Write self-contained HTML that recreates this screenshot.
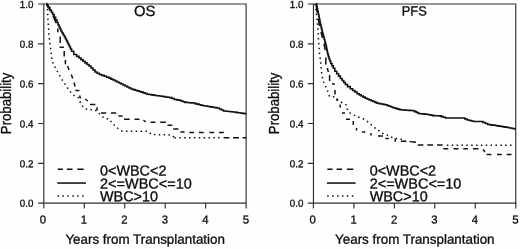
<!DOCTYPE html>
<html><head><meta charset="utf-8"><title>OS / PFS</title>
<style>
html,body{margin:0;padding:0;background:#fefefd;}
svg{display:block;will-change:transform;}
text{font-family:"Liberation Sans",sans-serif;fill:#0a0a0a;stroke:#0a0a0a;stroke-width:0.3px;}
</style></head>
<body>
<svg width="520" height="249" viewBox="0 0 520 249">
<rect width="520" height="249" fill="#fefefd"/>
<path d="M43.8,4.0H246.10000000000002V203.1H43.8Z" fill="none" stroke="#303030" stroke-width="1.15"/>
<path d="M38.1,203.1H43.8M43.8,203.1V208.4M38.1,163.3H43.8M84.3,203.1V208.4M38.1,123.5H43.8M124.7,203.1V208.4M38.1,83.6H43.8M165.2,203.1V208.4M38.1,43.8H43.8M205.6,203.1V208.4M38.1,4.0H43.8M246.1,203.1V208.4" fill="none" stroke="#303030" stroke-width="1.15"/>
<text transform="translate(33.40,206.65) matrix(0.96,0.0005,0,1.0,0,0)" font-size="10.2" text-anchor="end">0.0</text>
<text transform="translate(42.90,223.50) matrix(0.98,0.0005,0,1.0,0,0)" font-size="11.6" text-anchor="middle">0</text>
<text transform="translate(33.40,167.23) matrix(0.96,0.0005,0,1.0,0,0)" font-size="10.2" text-anchor="end">0.2</text>
<text transform="translate(83.96,223.50) matrix(0.98,0.0005,0,1.0,0,0)" font-size="11.6" text-anchor="middle">1</text>
<text transform="translate(33.40,127.41) matrix(0.96,0.0005,0,1.0,0,0)" font-size="10.2" text-anchor="end">0.4</text>
<text transform="translate(124.42,223.50) matrix(0.98,0.0005,0,1.0,0,0)" font-size="11.6" text-anchor="middle">2</text>
<text transform="translate(33.40,87.59) matrix(0.96,0.0005,0,1.0,0,0)" font-size="10.2" text-anchor="end">0.6</text>
<text transform="translate(164.88,223.50) matrix(0.98,0.0005,0,1.0,0,0)" font-size="11.6" text-anchor="middle">3</text>
<text transform="translate(33.40,47.77) matrix(0.96,0.0005,0,1.0,0,0)" font-size="10.2" text-anchor="end">0.8</text>
<text transform="translate(205.34,223.50) matrix(0.98,0.0005,0,1.0,0,0)" font-size="11.6" text-anchor="middle">4</text>
<text transform="translate(33.40,8.10) matrix(0.96,0.0005,0,1.0,0,0)" font-size="10.2" text-anchor="end">1.0</text>
<text transform="translate(245.80,223.50) matrix(0.98,0.0005,0,1.0,0,0)" font-size="11.6" text-anchor="middle">5</text>
<text transform="translate(145.15,243.70) matrix(1.0,0.0005,0,1.0,0,0)" font-size="13.4" text-anchor="middle">Years from Transplantation</text>
<text transform="translate(11.40,103.40) rotate(-90) scale(0.962,1.04)" font-size="13.7" text-anchor="middle">Probability</text>
<text transform="translate(144.75,15.90) matrix(1.0,0.0005,0,1.0,0,0)" font-size="14.8" text-anchor="middle">OS</text>
<polyline points="46.20,3.60 46.88,3.60 46.88,5.40 47.55,5.40 48.22,5.40 48.22,7.20 48.90,7.20 49.90,7.20 49.90,10.40 50.90,10.40 51.50,10.40 51.50,12.45 52.10,12.45 52.70,12.45 52.70,14.50 53.30,14.50 54.07,14.50 54.07,17.25 54.85,17.25 55.62,17.25 55.62,20.00 56.40,20.00 56.95,20.00 56.95,22.50 57.50,22.50 58.05,22.50 58.05,25.00 58.60,25.00 59.07,25.00 59.07,27.00 59.53,27.00 60.00,27.00 60.00,29.00 60.47,29.00 60.93,29.00 60.93,31.00 61.40,31.00 62.00,31.00 62.00,33.00 62.60,33.00 63.20,33.00 63.20,35.00 63.80,35.00 64.40,35.00 64.40,37.00 65.00,37.00 65.50,37.00 65.50,39.00 66.00,39.00 66.50,39.00 66.50,41.00 67.00,41.00 67.50,41.00 67.50,43.00 68.00,43.00 68.50,43.00 68.50,45.00 69.00,45.00 69.50,45.00 69.50,47.00 70.00,47.00 70.50,47.00 70.50,49.00 71.00,49.00 71.60,49.00 71.60,51.20 72.20,51.20 73.75,51.20 73.75,54.50 75.30,54.50 76.65,54.50 76.65,56.40 78.00,56.40 79.00,56.40 79.00,58.03 80.00,58.03 81.00,58.03 81.00,59.67 82.00,59.67 83.00,59.67 83.00,61.30 84.00,61.30 85.00,61.30 85.00,62.87 86.00,62.87 87.00,62.87 87.00,64.43 88.00,64.43 89.00,64.43 89.00,66.00 90.00,66.00 91.00,66.00 91.00,68.00 92.00,68.00 93.00,68.00 93.00,70.00 94.00,70.00 95.00,70.00 95.00,72.00 96.00,72.00 97.10,72.00 97.10,73.25 98.20,73.25 99.30,73.25 99.30,74.50 100.40,74.50 101.67,74.50 101.67,75.40 102.93,75.40 104.20,75.40 104.20,76.30 105.47,76.30 106.73,76.30 106.73,77.20 108.00,77.20 109.00,77.20 109.00,78.15 110.00,78.15 111.00,78.15 111.00,79.10 112.00,79.10 113.00,79.10 113.00,80.05 114.00,80.05 115.00,80.05 115.00,81.00 116.00,81.00 117.00,81.00 117.00,82.00 118.00,82.00 119.00,82.00 119.00,83.00 120.00,83.00 121.00,83.00 121.00,84.00 122.00,84.00 123.00,84.00 123.00,85.00 124.00,85.00 125.00,85.00 125.00,86.00 126.00,86.00 127.00,86.00 127.00,87.00 128.00,87.00 129.00,87.00 129.00,88.00 130.00,88.00 131.00,88.00 131.00,89.00 132.00,89.00 133.03,89.00 133.03,89.62 134.05,89.62 135.07,89.62 135.07,90.25 136.10,90.25 137.12,90.25 137.12,90.88 138.15,90.88 139.17,90.88 139.17,91.50 140.20,91.50 141.20,91.50 141.20,92.17 142.20,92.17 143.20,92.17 143.20,92.85 144.20,92.85 145.20,92.85 145.20,93.53 146.20,93.53 147.20,93.53 147.20,94.20 148.20,94.20 149.20,94.20 149.20,94.53 150.20,94.53 151.20,94.53 151.20,94.85 152.20,94.85 153.20,94.85 153.20,95.17 154.20,95.17 155.20,95.17 155.20,95.50 156.20,95.50 157.21,95.50 157.21,95.78 158.22,95.78 159.24,95.78 159.24,96.05 160.25,96.05 161.26,96.05 161.26,96.32 162.28,96.32 163.29,96.32 163.29,96.60 164.30,96.60 165.37,96.60 165.37,96.93 166.43,96.93 167.50,96.93 167.50,97.27 168.57,97.27 169.63,97.27 169.63,97.60 170.70,97.60 171.90,97.60 171.90,98.55 173.10,98.55 174.30,98.55 174.30,99.50 175.50,99.50 176.62,99.50 176.62,99.90 177.75,99.90 178.88,99.90 178.88,100.30 180.00,100.30 181.00,100.30 181.00,101.00 182.00,101.00 183.00,101.00 183.00,101.70 184.00,101.70 185.00,101.70 185.00,102.40 186.00,102.40 187.00,102.40 187.00,102.55 188.00,102.55 189.00,102.55 189.00,102.70 190.00,102.70 191.00,102.70 191.00,102.85 192.00,102.85 193.00,102.85 193.00,103.00 194.00,103.00 195.00,103.00 195.00,103.58 196.00,103.58 197.00,103.58 197.00,104.15 198.00,104.15 199.00,104.15 199.00,104.72 200.00,104.72 201.00,104.72 201.00,105.30 202.00,105.30 203.16,105.30 203.16,105.69 204.31,105.69 205.47,105.69 205.47,106.07 206.63,106.07 207.79,106.07 207.79,106.46 208.94,106.46 210.10,106.46 210.10,106.84 211.26,106.84 212.41,106.84 212.41,107.23 213.57,107.23 214.73,107.23 214.73,107.61 215.89,107.61 217.04,107.61 217.04,108.00 218.20,108.00 219.27,108.00 219.27,109.00 220.33,109.00 221.40,109.00 221.40,110.00 222.47,110.00 223.53,110.00 223.53,111.00 224.60,111.00 225.81,111.00 225.81,111.25 227.03,111.25 228.24,111.25 228.24,111.50 229.45,111.50 230.66,111.50 230.66,111.75 231.88,111.75 233.09,111.75 233.09,112.00 234.30,112.00 235.42,112.00 235.42,112.34 236.54,112.34 237.66,112.34 237.66,112.68 238.78,112.68 239.90,112.68 239.90,113.02 241.02,113.02 242.14,113.02 242.14,113.36 243.26,113.36 244.38,113.36 244.38,113.70 245.50,113.70 245.85,113.70 245.85,113.80 246.20,113.80" fill="none" stroke="#111" stroke-width="1.6" stroke-linejoin="miter"/>
<path d="M47,5L50.5,10.8M53,15.6L56,23M57.8,28.6L57.8,32.2M60.2,36.4L60.2,43M59.6,47.2L63.9,47.2M64.2,51L64.2,56.4M65.4,60L65.4,64.3M67.6,66L69,70M71.3,74.5L72.7,78.5M74,82.5L75,86.5M75.3,90.4L79.4,90.4M79.6,95.5L80.5,98.5M85.3,99L87.7,101M90,104.4L95.4,104.4M97,107.3L97,110.5M101,113.1L106.2,113.1M110.9,113L116.2,113M118.5,116L122.5,116M124,119.3L129.7,119.3M134.5,119.3L139.4,119.3M143.4,120L145.8,122M150.6,122.2L155.4,122.2M160.2,122.2L165.9,122.2M167.5,125.2L172.3,125.2M173.2,129L178.4,129M180.4,132.1L184.5,132.1M189.3,132.6L194,132.6M199,132.6L203.7,132.6M209.4,132.6L214.2,132.6M219,132.6L223.8,132.6M223.6,137.7L229.3,137.7M233,137.7L239,137.7M242.6,137.7L246.2,137.7" fill="none" stroke="#111" stroke-width="1.5"/>
<path d="M46.80,4.00L46.97,5.49M47.37,8.85L47.50,10.00L47.52,10.34M47.69,13.71L47.76,15.21M47.93,18.59L48.00,20.00L48.01,20.09M48.23,23.46L48.33,24.96M48.56,28.33L48.66,29.83M48.88,33.20L48.98,34.69M49.31,38.06L49.46,39.55M49.79,42.91L49.94,44.41M50.42,47.75L50.64,49.24M51.10,52.58L51.26,54.07M51.62,57.44L51.78,58.93M52.58,62.16L53.25,63.50M54.76,66.52L55.43,67.86M57.03,70.85L57.75,72.16M59.40,75.11L60.12,76.42M61.86,79.32L62.67,80.58M64.52,83.41L65.33,84.67M67.22,87.47L68.07,88.71M69.99,91.49L70.00,91.50L71.05,92.55M73.44,94.94L74.50,96.00L74.50,96.00M77.62,97.32L78.50,97.70L78.70,98.20M79.95,101.34L80.50,102.74M82.21,105.62L83.11,106.82M85.75,108.74L87.13,109.33M90.43,109.70L91.93,109.70M95.18,110.12L96.40,110.99M98.95,113.19L100.00,114.26M102.46,116.57L103.62,117.52M106.62,118.80L108.10,119.05M110.56,120.90L111.33,122.18M113.62,124.60L114.79,125.53M117.32,127.78L118.39,128.82M121.19,130.65L122.50,131.30L122.54,131.30M125.92,131.30L127.42,131.30M130.80,131.30L132.30,131.30M135.68,131.30L137.18,131.30M140.56,131.30L142.06,131.30M145.44,131.30L146.94,131.30M149.70,132.80L150.76,133.86M153.87,134.56L155.37,134.60M158.75,134.68L160.25,134.71M163.63,134.80L165.13,134.83M168.51,134.92L170.01,134.95M172.92,136.04L173.92,137.15" fill="none" stroke="#111" stroke-width="1.5"/>
<path d="M174.50,137.80L175.95,137.80M179.31,137.80L180.81,137.80M184.17,137.80L185.67,137.80M189.03,137.80L190.53,137.80M193.89,137.80L195.39,137.80M198.75,137.80L200.25,137.80M203.61,137.80L205.11,137.80M208.47,137.80L209.97,137.80M213.33,137.80L214.83,137.80M218.19,137.80L219.69,137.80" fill="none" stroke="#111" stroke-width="1.5"/>
<path d="M57.7,169.3H62.9M66.9,169.3H72.5M77.3,169.3H83.7" stroke="#111" stroke-width="1.5"/>
<path d="M57.3,183.05H86.0" stroke="#111" stroke-width="1.55"/>
<path d="M57.55,196H83.8" stroke="#111" stroke-width="1.5" stroke-dasharray="1.5 3.42"/>
<text transform="translate(100.00,175.40) matrix(1.0,0.0005,0,1.0,0,0)" font-size="14.4">0&lt;WBC&lt;2</text>
<text transform="translate(100.00,188.40) matrix(1.006,0.0005,0,1.0,0,0)" font-size="14.4">2&lt;=WBC&lt;=10</text>
<text transform="translate(100.00,201.20) matrix(1.0,0.0005,0,1.0,0,0)" font-size="14.4">WBC&gt;10</text>
<path d="M313.45,4.0H515.75V203.1H313.45Z" fill="none" stroke="#303030" stroke-width="1.15"/>
<path d="M307.8,203.1H313.45M313.4,203.1V208.4M307.8,163.3H313.45M353.9,203.1V208.4M307.8,123.5H313.45M394.4,203.1V208.4M307.8,83.6H313.45M434.8,203.1V208.4M307.8,43.8H313.45M475.3,203.1V208.4M307.8,4.0H313.45M515.8,203.1V208.4" fill="none" stroke="#303030" stroke-width="1.15"/>
<text transform="translate(303.45,206.65) matrix(0.96,0.0005,0,1.0,0,0)" font-size="10.2" text-anchor="end">0.0</text>
<text transform="translate(312.55,223.50) matrix(0.98,0.0005,0,1.0,0,0)" font-size="11.6" text-anchor="middle">0</text>
<text transform="translate(303.45,167.23) matrix(0.96,0.0005,0,1.0,0,0)" font-size="10.2" text-anchor="end">0.2</text>
<text transform="translate(353.61,223.50) matrix(0.98,0.0005,0,1.0,0,0)" font-size="11.6" text-anchor="middle">1</text>
<text transform="translate(303.45,127.41) matrix(0.96,0.0005,0,1.0,0,0)" font-size="10.2" text-anchor="end">0.4</text>
<text transform="translate(394.07,223.50) matrix(0.98,0.0005,0,1.0,0,0)" font-size="11.6" text-anchor="middle">2</text>
<text transform="translate(303.45,87.59) matrix(0.96,0.0005,0,1.0,0,0)" font-size="10.2" text-anchor="end">0.6</text>
<text transform="translate(434.53,223.50) matrix(0.98,0.0005,0,1.0,0,0)" font-size="11.6" text-anchor="middle">3</text>
<text transform="translate(303.45,47.77) matrix(0.96,0.0005,0,1.0,0,0)" font-size="10.2" text-anchor="end">0.8</text>
<text transform="translate(474.99,223.50) matrix(0.98,0.0005,0,1.0,0,0)" font-size="11.6" text-anchor="middle">4</text>
<text transform="translate(303.45,8.10) matrix(0.96,0.0005,0,1.0,0,0)" font-size="10.2" text-anchor="end">1.0</text>
<text transform="translate(515.45,223.50) matrix(0.98,0.0005,0,1.0,0,0)" font-size="11.6" text-anchor="middle">5</text>
<text transform="translate(414.80,243.70) matrix(1.0,0.0005,0,1.0,0,0)" font-size="13.4" text-anchor="middle">Years from Transplantation</text>
<text transform="translate(279.15,103.40) rotate(-90) scale(0.962,1.04)" font-size="13.7" text-anchor="middle">Probability</text>
<text transform="translate(414.20,15.60) matrix(0.97,0.0005,0,1.0,0,0)" font-size="13.3" text-anchor="middle">PFS</text>
<polyline points="316.30,3.60 316.58,3.60 316.58,6.30 316.85,6.30 317.12,6.30 317.12,9.00 317.40,9.00 317.67,9.00 317.67,11.50 317.95,11.50 318.23,11.50 318.23,14.00 318.50,14.00 318.70,14.00 318.70,16.00 318.90,16.00 319.10,16.00 319.10,18.00 319.30,18.00 319.50,18.00 319.50,20.00 319.70,20.00 319.95,20.00 319.95,22.50 320.20,22.50 320.45,22.50 320.45,25.00 320.70,25.00 321.00,25.00 321.00,27.40 321.30,27.40 321.60,27.40 321.60,29.80 321.90,29.80 322.20,29.80 322.20,32.20 322.50,32.20 322.80,32.20 322.80,34.60 323.10,34.60 323.44,34.60 323.44,37.02 323.78,37.02 324.11,37.02 324.11,39.45 324.45,39.45 324.79,39.45 324.79,41.88 325.12,41.88 325.46,41.88 325.46,44.30 325.80,44.30 326.02,44.30 326.02,46.34 326.24,46.34 326.46,46.34 326.46,48.38 326.68,48.38 326.90,48.38 326.90,50.42 327.12,50.42 327.34,50.42 327.34,52.46 327.56,52.46 327.78,52.46 327.78,54.50 328.00,54.50 328.35,54.50 328.35,56.67 328.70,56.67 329.05,56.67 329.05,58.83 329.40,58.83 329.75,58.83 329.75,61.00 330.10,61.00 330.73,61.00 330.73,63.43 331.37,63.43 332.00,63.43 332.00,65.87 332.63,65.87 333.27,65.87 333.27,68.30 333.90,68.30 334.85,68.30 334.85,71.30 335.80,71.30 336.72,71.30 336.72,73.70 337.63,73.70 338.55,73.70 338.55,76.10 339.47,76.10 340.38,76.10 340.38,78.50 341.30,78.50 342.12,78.50 342.12,80.50 342.93,80.50 343.75,80.50 343.75,82.50 344.57,82.50 345.38,82.50 345.38,84.50 346.20,84.50 347.52,84.50 347.52,86.65 348.85,86.65 350.18,86.65 350.18,88.80 351.50,88.80 352.62,88.80 352.62,90.43 353.73,90.43 354.85,90.43 354.85,92.07 355.97,92.07 357.08,92.07 357.08,93.70 358.20,93.70 359.20,93.70 359.20,94.83 360.20,94.83 361.20,94.83 361.20,95.95 362.20,95.95 363.20,95.95 363.20,97.08 364.20,97.08 365.20,97.08 365.20,98.20 366.20,98.20 367.17,98.20 367.17,99.03 368.13,99.03 369.10,99.03 369.10,99.87 370.07,99.87 371.03,99.87 371.03,100.70 372.00,100.70 373.00,100.70 373.00,101.53 374.00,101.53 375.00,101.53 375.00,102.37 376.00,102.37 377.00,102.37 377.00,103.20 378.00,103.20 379.00,103.20 379.00,103.60 380.00,103.60 381.00,103.60 381.00,104.00 382.00,104.00 383.00,104.00 383.00,104.40 384.00,104.40 385.00,104.40 385.00,104.80 386.00,104.80 387.00,104.80 387.00,105.53 388.00,105.53 389.00,105.53 389.00,106.25 390.00,106.25 391.00,106.25 391.00,106.97 392.00,106.97 393.00,106.97 393.00,107.70 394.00,107.70 395.17,107.70 395.17,108.40 396.33,108.40 397.50,108.40 397.50,109.10 398.67,109.10 399.83,109.10 399.83,109.80 401.00,109.80 402.06,109.80 402.06,109.95 403.12,109.95 404.18,109.95 404.18,110.10 405.23,110.10 406.29,110.10 406.29,110.25 407.35,110.25 408.41,110.25 408.41,110.40 409.47,110.40 410.52,110.40 410.52,110.55 411.58,110.55 412.64,110.55 412.64,110.70 413.70,110.70 414.63,110.70 414.63,111.63 415.57,111.63 416.50,111.63 416.50,112.57 417.43,112.57 418.37,112.57 418.37,113.50 419.30,113.50 420.30,113.50 420.30,113.70 421.30,113.70 422.30,113.70 422.30,113.90 423.30,113.90 424.30,113.90 424.30,114.10 425.30,114.10 426.30,114.10 426.30,114.30 427.30,114.30 428.37,114.30 428.37,114.73 429.43,114.73 430.50,114.73 430.50,115.17 431.57,115.17 432.63,115.17 432.63,115.60 433.70,115.60 434.78,115.60 434.78,115.70 435.87,115.70 436.95,115.70 436.95,115.80 438.03,115.80 439.12,115.80 439.12,115.90 440.20,115.90 441.27,115.90 441.27,116.60 442.33,116.60 443.40,116.60 443.40,117.30 444.47,117.30 445.53,117.30 445.53,118.00 446.60,118.00 447.66,118.00 447.66,118.00 448.71,118.00 449.77,118.00 449.77,118.00 450.83,118.00 451.88,118.00 451.88,118.00 452.94,118.00 453.99,118.00 453.99,118.00 455.05,118.00 456.11,118.00 456.11,118.00 457.16,118.00 458.22,118.00 458.22,118.00 459.27,118.00 460.33,118.00 460.33,118.00 461.39,118.00 462.44,118.00 462.44,118.00 463.50,118.00 464.73,118.00 464.73,119.00 465.95,119.00 467.17,119.00 467.17,120.00 468.40,120.00 469.42,120.00 469.42,120.50 470.43,120.50 471.45,120.50 471.45,121.00 472.47,121.00 473.48,121.00 473.48,121.50 474.50,121.50 475.70,121.50 475.70,121.50 476.90,121.50 478.10,121.50 478.10,121.50 479.30,121.50 480.50,121.50 480.50,121.50 481.70,121.50 482.92,121.50 482.92,122.50 484.13,122.50 485.35,122.50 485.35,123.50 486.57,123.50 487.78,123.50 487.78,124.50 489.00,124.50 490.17,124.50 490.17,124.83 491.33,124.83 492.50,124.83 492.50,125.17 493.67,125.17 494.83,125.17 494.83,125.50 496.00,125.50 497.02,125.50 497.02,125.83 498.03,125.83 499.05,125.83 499.05,126.17 500.07,126.17 501.08,126.17 501.08,126.50 502.10,126.50 503.12,126.50 503.12,126.83 504.13,126.83 505.15,126.83 505.15,127.17 506.17,127.17 507.18,127.17 507.18,127.50 508.20,127.50 509.47,127.50 509.47,128.00 510.73,128.00 512.00,128.00 512.00,128.50 513.27,128.50 514.53,128.50 514.53,129.00 515.80,129.00" fill="none" stroke="#111" stroke-width="1.6" stroke-linejoin="miter"/>
<path d="M316.3,6L317.3,13M318.2,19L319.5,26M321,32L322.5,38M324,43.5L325.2,50M325.8,57.4L325.8,64.6M327.3,68L328.3,72M329.6,75L329.6,81M332,84.1L334.8,84.1M335,90L335,94.5M337,98.5L337,101M340,104.5L340.4,107.6M342,112.9L345,112.9M346,119.3L350,119.3M353.3,121L353.3,125M356.5,128L356.5,130.5M362,132L365.3,132M371,133L371,135.4M378,136L383,136M385.4,138.5L388.8,138.5M395.3,138.5L395.3,141.7M401,141.3L405.7,141.3M411.3,141.8L416,142.2M417.8,144.9L423.4,144.9M427.4,144.9L433,144.9M437,144.9L442.6,144.9M443.3,148.7L448.2,148.7M453.5,148.7L458.5,148.7M463.3,148.8L468,148.8M473,148.8L478.5,148.8M483,149.5L485,152M486.6,154.4L491.4,154.4M497,154.4L501.8,154.4M506.7,154.4L511.5,154.4" fill="none" stroke="#111" stroke-width="1.5"/>
<path d="M315.20,4.00L315.37,5.49M315.77,8.85L315.94,10.34M316.34,13.69L316.51,15.18M316.90,18.54L317.08,20.03M317.47,23.39L317.65,24.88M317.90,28.25L317.97,29.74M318.13,33.12L318.20,34.60L318.20,34.62M318.40,37.99L318.49,39.49M318.69,42.86L318.70,43.00L318.79,44.36M319.02,47.73L319.12,49.23M319.35,52.60L319.40,53.30L319.52,54.09M320.04,57.43L320.27,58.91M320.68,62.26L320.78,63.76M321.01,67.13L321.18,68.62M321.55,71.98L321.71,73.48M322.28,76.80L322.56,78.28M323.46,81.53L323.60,82.00L324.02,82.92M325.44,85.99L326.00,87.20L326.08,87.34M327.41,90.43L327.82,91.87M328.96,95.05L329.48,96.46M332.81,96.87L334.00,97.00L334.25,97.18M336.95,99.21L338.00,100.00L338.16,100.10M340.99,101.95L342.24,102.77M345.21,104.38L346.00,104.80L346.15,105.39M346.97,108.67L347.00,108.80L347.58,110.04M349.53,112.64L350.80,113.44M353.75,115.07L355.12,115.69M358.20,117.07L359.62,117.57M362.80,118.69L363.70,119.00L364.17,119.29M367.05,121.05L368.11,122.11M370.55,124.45L371.70,125.41M374.35,127.51L375.63,128.28M378.44,130.13L379.52,131.18M382.11,133.27L383.52,133.79M386.68,134.98L388.09,135.51M391.12,136.97L392.43,137.70M395.70,138.53L396.00,138.60L397.19,138.60M400.49,138.89L401.78,139.67M404.78,141.14L406.25,141.39M409.61,141.64L411.11,141.58M414.45,141.79L414.50,141.80" fill="none" stroke="#111" stroke-width="1.5"/>
<path d="M446.85,145.25L448.35,145.25M451.71,145.25L453.21,145.25M456.57,145.25L458.07,145.25M461.43,145.25L462.93,145.25M466.29,145.25L467.79,145.25M471.15,145.25L472.65,145.25M476.01,145.25L477.51,145.25M480.87,145.25L482.37,145.25M485.73,145.25L487.23,145.25M490.59,145.25L492.09,145.25M495.45,145.25L496.95,145.25M500.31,145.25L501.81,145.25M505.17,145.25L506.67,145.25M510.03,145.25L511.53,145.25" fill="none" stroke="#111" stroke-width="1.5"/>
<path d="M327.3,169.3H332.6M336.6,169.3H342.1M346.9,169.3H353.3" stroke="#111" stroke-width="1.5"/>
<path d="M326.9,183.05H355.6" stroke="#111" stroke-width="1.55"/>
<path d="M327.20,196H353.4" stroke="#111" stroke-width="1.5" stroke-dasharray="1.5 3.42"/>
<text transform="translate(369.65,175.40) matrix(1.0,0.0005,0,1.0,0,0)" font-size="14.4">0&lt;WBC&lt;2</text>
<text transform="translate(369.65,188.40) matrix(1.006,0.0005,0,1.0,0,0)" font-size="14.4">2&lt;=WBC&lt;=10</text>
<text transform="translate(369.65,201.20) matrix(1.0,0.0005,0,1.0,0,0)" font-size="14.4">WBC&gt;10</text>
</svg>
</body></html>
